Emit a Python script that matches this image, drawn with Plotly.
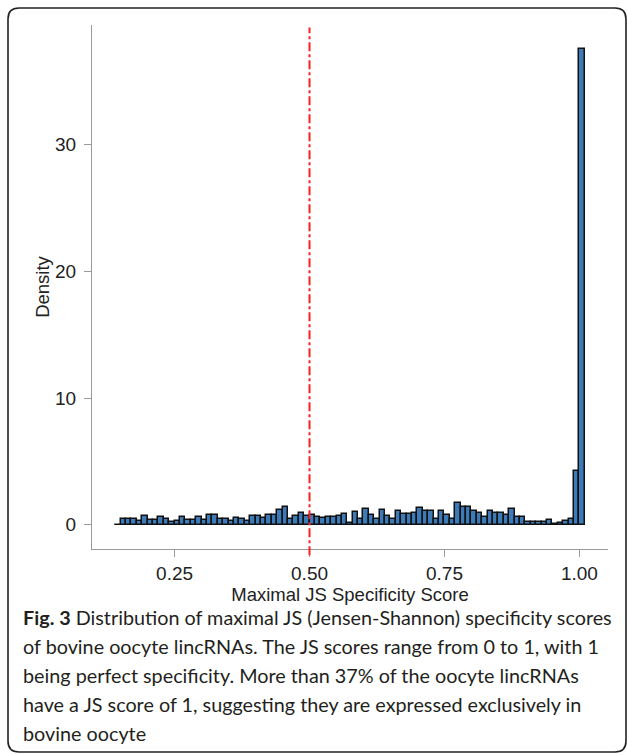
import plotly.graph_objects as go

# ---- data (histogram, bin width 0.01, density) ----
bin_left = [round(0.14 + 0.01 * i, 2) for i in range(87)]  # 0.14 ... 1.00
density = [
    0.0,                                                        # 0.14
    0.45, 0.48, 0.48, 0.33, 0.65, 0.37, 0.37, 0.58, 0.47, 0.22,  # 0.15-0.24
    0.30, 0.60, 0.37, 0.37, 0.60, 0.35, 0.78, 0.78, 0.42, 0.47,  # 0.25-0.34
    0.32, 0.53, 0.47, 0.32, 0.66, 0.66, 0.53, 0.76, 0.76, 1.13,  # 0.35-0.44
    1.40, 0.47, 0.68, 0.89, 0.68, 0.75, 0.60, 0.50, 0.60, 0.60,  # 0.45-0.54
    0.70, 0.85, 0.10, 1.00, 0.45, 1.20, 0.80, 0.45, 1.13, 0.70,  # 0.55-0.64
    0.45, 1.05, 0.85, 0.85, 0.90, 1.30, 1.05, 1.05, 0.45, 1.05,  # 0.65-0.74
    0.80, 0.45, 1.70, 1.40, 1.40, 1.05, 0.95, 0.60, 1.10, 0.90,  # 0.75-0.84
    0.90, 0.80, 1.25, 0.60, 0.60, 0.25, 0.25, 0.25, 0.25, 0.35,  # 0.85-0.94
    0.05, 0.12, 0.33, 0.45, 4.25,                                # 0.95-0.99
    37.6,                                                        # 1.00
]
bin_width = 0.01
x_ticks = [0.25, 0.50, 0.75, 1.00]
x_ticktext = ["0.25", "0.50", "0.75", "1.00"]
y_ticks = [0, 10, 20, 30]
ref_line = 0.5

caption = [
    "<b>Fig. 3</b> Distribution of maximal JS (Jensen-Shannon) specificity scores",
    "of bovine oocyte lincRNAs. The JS scores range from 0 to 1, with 1",
    "being perfect specificity. More than 37% of the oocyte lincRNAs",
    "have a JS score of 1, suggesting they are expressed exclusively in",
    "bovine oocyte",
]

# ---- layout geometry (pixels) ----
W, H = 627, 755
L, R, T, B = 92, 19, 25, 206
PW, PH = W - L - R, H - T - B


def px(xp):
    return (xp - L) / PW


def py(yp):
    return (H - B - yp) / PH


centers = [b + bin_width / 2 for b in bin_left]

fig = go.Figure()
fig.add_trace(go.Bar(
    x=centers, y=density, width=bin_width,
    marker=dict(color="#3d7ab8", line=dict(color="#111111", width=1.5)),
    hoverinfo="x+y",
))

# reference line at 0.5
fig.add_shape(type="line", xref="x", yref="paper", x0=ref_line, x1=ref_line,
              y0=-0.012, y1=0.995, line=dict(color="#ff2020", width=2, dash="dashdot"))

# rounded border
x0, x1, y0, y1, r = 8, 626, 8, 752, 11
path = (f"M {px(x0 + r)},{py(y0)} L {px(x1 - r)},{py(y0)} "
        f"Q {px(x1)},{py(y0)} {px(x1)},{py(y0 + r)} L {px(x1)},{py(y1 - r)} "
        f"Q {px(x1)},{py(y1)} {px(x1 - r)},{py(y1)} L {px(x0 + r)},{py(y1)} "
        f"Q {px(x0)},{py(y1)} {px(x0)},{py(y1 - r)} L {px(x0)},{py(y0 + r)} "
        f"Q {px(x0)},{py(y0)} {px(x0 + r)},{py(y0)} Z")
fig.add_shape(type="path", xref="paper", yref="paper", path=path,
              line=dict(color="#222222", width=1.6), layer="below")

# caption lines
cap_y = [617, 646, 675, 704, 733]
for txt, yy in zip(caption, cap_y):
    fig.add_annotation(text=txt, xref="paper", yref="paper", x=px(21), y=py(yy),
                       xanchor="left", yanchor="middle", showarrow=False,
                       font=dict(family="Lato", size=19.8, color="#231f20"))

axis_common = dict(showline=True, linecolor="#9a9a9a", linewidth=1.2, ticks="outside",
                   ticklen=7, tickcolor="#9a9a9a", tickwidth=1.2, showgrid=False,
                   zeroline=False, tickfont=dict(family="Liberation Sans", size=19, color="#222"))

fig.update_layout(
    width=W, height=H,
    margin=dict(l=L, r=R, t=T, b=B),
    paper_bgcolor="white", plot_bgcolor="white",
    showlegend=False, bargap=0,
    xaxis=dict(range=[0.097, 1.053], tickvals=x_ticks, ticktext=x_ticktext,
               title=dict(text="Maximal JS Specificity Score", standoff=0,
                          font=dict(family="Liberation Sans", size=18.5, color="#222")),
               **axis_common),
    yaxis=dict(range=[-1.92, 39.46], tickvals=y_ticks, ticklabelstandoff=4,
               title=dict(text="Density", standoff=0,
                          font=dict(family="Liberation Sans", size=18.5, color="#222")),
               **axis_common),
)

fig.write_html("out.html", config={"displayModeBar": False},
               post_script="document.body.style.margin='0';document.body.style.padding='0';")
